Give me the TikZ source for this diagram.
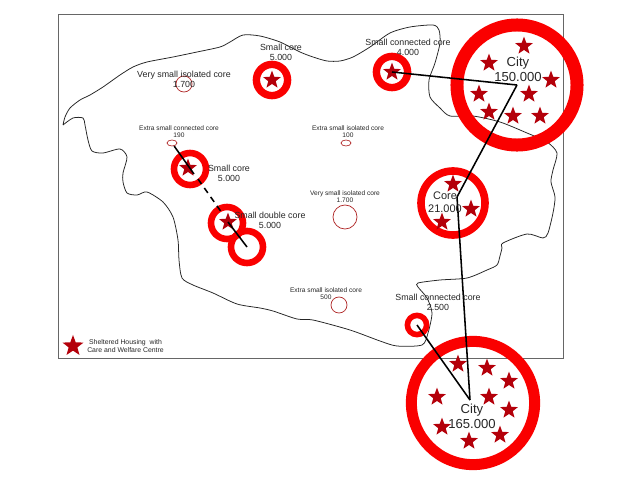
\documentclass[tikz,border=0pt]{standalone}
\usepackage{fontspec}
\setmainfont{Liberation Sans}
\usepackage{xcolor}
\usetikzlibrary{positioning, shapes.geometric}
\definecolor{ringred}{RGB}{250,0,0}
\definecolor{starred}{RGB}{180,0,10}
\definecolor{thinred}{RGB}{176,40,40}
\tikzset{
  ring/.style={circle, draw=ringred, inner sep=0pt},
  thinring/.style={circle, draw=thinred, inner sep=0pt, line width=0.5pt},
  thinoval/.style={ellipse, draw=thinred, inner sep=0pt, line width=0.5pt, minimum width=0.25cm, minimum height=0.15cm},
  housing/.style={star, star points=5, star point ratio=2.4, fill=starred, inner sep=0pt, minimum size=0.47cm},
  biglabel/.style={align=center, text=black!85, font=\fontsize{9.3}{10.7}\selectfont},
  corelabel/.style={align=center, text=black!85, font=\fontsize{7.8}{9.2}\selectfont},
  midlabel/.style={align=center, text=black!85, font=\fontsize{6.3}{7.1}\selectfont},
  tinylabel/.style={align=center, text=black!85, font=\fontsize{4.7}{5}\selectfont},
  link/.style={draw=black, line width=1.1pt}
}
\begin{document}
\begin{tikzpicture}[x=0.025cm, y=-0.025cm]
            \useasboundingbox (0,0) rectangle (640,480);

            %Frame and outline
            \node at (310.5,186.5) (frame) [draw=black!60, line width=0.6pt, minimum width=12.62cm, minimum height=8.61cm, inner sep=0pt] {};
            \draw [black!85, line width=0.55pt] plot [smooth, tension=0.45] coordinates {
              (63,125) (65,117) (70,108) (80,100) (90,95) (103,87) (120,75) (133,67) (147,62)
              (173,57) (197,52) (220,47) (230,42) (243,35) (260,36) (280,42) (300,52) (313,57)
              (327,61) (340,61) (353,57) (370,47) (390,33) (410,27) (433,25) (439,30) (440,43)
              (435,63) (429,80) (430,97) (440,108) (450,116) (473,116) (500,122) (527,133)
              (547,142) (557,153) (553,170) (551,182) (555,197) (553,213) (548,233) (543,238)
              (527,234) (503,243) (502,248) (500,256) (497,265) (487,270) (467,278) (440,280)
              (418,283) (418,287) (427,298) (432,313) (428,333) (422,345) (397,346) (380,341)
              (350,330) (313,320) (297,319) (273,311) (260,308) (237,304) (213,293) (193,285)
              (182,278) (179,260) (178,240) (173,217) (163,202) (147,192) (137,195) (127,193)
              (123,182) (123,173) (127,157) (120,149) (103,153) (92,151) (88,140) (85,125)
              (83,118) (73,118) (63,125)};

            %Rings
            \node at (517,85) (city1) [ring, line width=0.325cm, minimum size=3cm] {};
            \node at (473,403) (city2) [ring, line width=0.275cm, minimum size=3.08cm] {};
            \node at (453,203) (core) [ring, line width=0.19cm, minimum size=1.6cm] {};
            \node at (392,72) (conn1) [ring, line width=0.185cm, minimum size=0.78cm] {};
            \node at (417,325) (conn2) [ring, line width=0.14cm, minimum size=0.48cm] {};
            \node at (272,80) (small1) [ring, line width=0.185cm, minimum size=0.78cm] {};
            \node at (190,169) (small2) [ring, line width=0.165cm, minimum size=0.8cm] {};
            \node at (227,223) (double1) [ring, line width=0.165cm, minimum size=0.8cm] {};
            \node at (247,247) (double2) [ring, line width=0.165cm, minimum size=0.8cm] {};
            \node at (184,84) (vsmall1) [thinring, minimum size=0.4cm] {};
            \node at (345,217) (vsmall2) [thinring, minimum size=0.6cm] {};
            \node at (339,305) (xsmall3) [thinring, minimum size=0.4cm] {};
            \node at (172,143) (xsmall1) [thinoval] {};
            \node at (346,143) (xsmall2) [thinoval] {};

            %Stars
            \node at (524,46) (s1) [housing] {};
            \node at (489,63) (s2) [housing] {};
            \node at (551,80) (s3) [housing] {};
            \node at (479,94) (s4) [housing] {};
            \node at (529,94) (s5) [housing] {};
            \node at (489,112) (s6) [housing] {};
            \node at (513,116) (s7) [housing] {};
            \node at (540,116) (s8) [housing] {};
            \node at (453,184) (s9) [housing] {};
            \node at (471,209) (s10) [housing] {};
            \node at (442,222) (s11) [housing] {};
            \node at (392,72) (s12) [housing] {};
            \node at (272,80) (s13) [housing] {};
            \node at (188,168) (s14) [housing] {};
            \node at (228,222) (s15) [housing] {};
            \node at (458,364) (s16) [housing] {};
            \node at (487,368) (s17) [housing] {};
            \node at (509,381) (s18) [housing] {};
            \node at (437,397) (s19) [housing] {};
            \node at (489,397) (s20) [housing] {};
            \node at (509,410) (s21) [housing] {};
            \node at (442,427) (s22) [housing] {};
            \node at (500,435) (s23) [housing] {};
            \node at (469,441) (s24) [housing] {};
            \node at (73,346) (s25) [housing, minimum size=0.55cm] {};

            %Lines
            \coordinate (bend) at (457,197);
            \coordinate (hub) at (470,400);
            \coordinate (leave) at (194,174);
            \coordinate (dashstart) at (198,179);
            \coordinate (arrive) at (222,213);
            \draw [link] (s12.center) -- (city1.center);
            \draw [link] (city1.center) -- (bend);
            \draw [link] (bend) -- (hub);
            \draw [link] (conn2.center) -- (hub);
            \draw [link] (xsmall1) -- (leave);
            \draw [link, dash pattern=on 4.3pt off 3.5pt] (dashstart) -- (arrive);
            \draw [link] (s15.center) -- (double2.center);

            %Labels
            \node at (518,69.5) (lcity1) [biglabel] {City\\150.000};
            \node at (472,416.5) (lcity2) [biglabel] {City\\165.000};
            \node at (445,202.5) (lcore) [corelabel] {Core\\21.000};
            \node at (281,52.5) (lsmall1) [midlabel] {Small core\\5.000};
            \node at (229,173) (lsmall2) [midlabel] {Small core\\5.000};
            \node at (270,220.5) (ldouble) [midlabel] {Small double core\\5.000};
            \node at (408,47) (lconn1) [midlabel] {Small connected core\\4.000};
            \node at (438,302) (lconn2) [midlabel] {Small connected core\\2.500};
            \node at (184,79) (lvsmall1) [midlabel] {Very small isolated core\\1.700};
            \node at (345,196.5) (lvsmall2) [tinylabel] {Very small isolated core\\1.700};
            \node at (179,131.5) (lxsmall1) [tinylabel] {Extra small connected core\\190};
            \node at (348,131.5) (lxsmall2) [tinylabel] {Extra small isolated core\\100};
            \node at (326,293.5) (lxsmall3) [tinylabel] {Extra small isolated core\\500};
            \node at (125.5,346) (llegend) [tinylabel, font=\fontsize{4.9}{5.5}\selectfont] {Sheltered Housing\ \ with\\Care and Welfare Centre};
        \end{tikzpicture}
\end{document}
